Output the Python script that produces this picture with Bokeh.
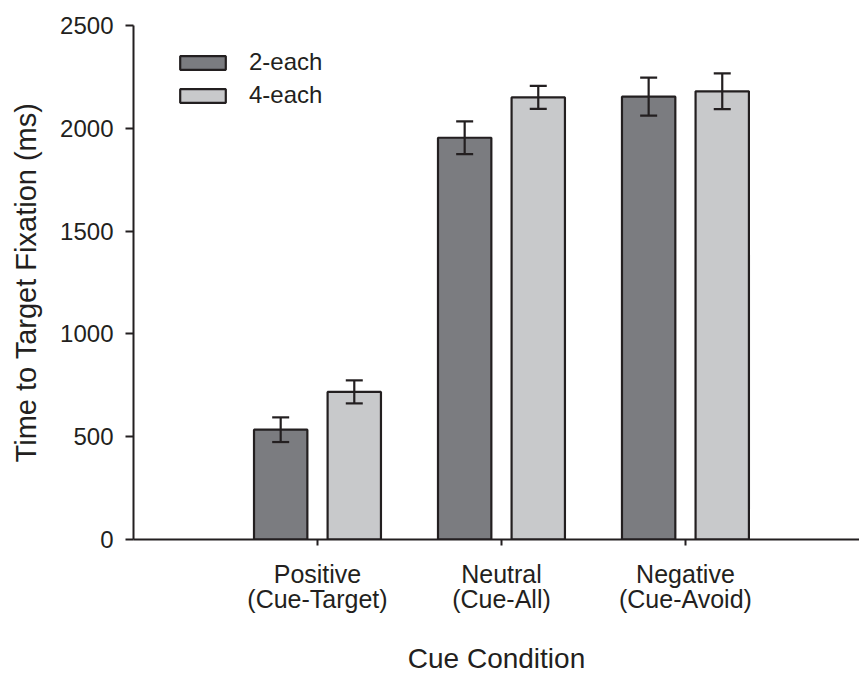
from bokeh.plotting import figure
from bokeh.models import (ColumnDataSource, Range1d, FixedTicker, Whisker, TeeHead,
                          Legend, LegendItem)
from bokeh.transform import dodge
from bokeh.embed import file_html
from bokeh.resources import INLINE

# Cue conditions (x positions 1..3) and their two-line tick labels
conditions = ["Positive", "Neutral", "Negative"]
condition_labels = ["Positive\n(Cue-Target)", "Neutral\n(Cue-All)", "Negative\n(Cue-Avoid)"]
condition_pos = [1, 2, 3]

# Mean time to target fixation (ms) and standard errors
two_each_mean = [534, 1954, 2154]
two_each_err = [60, 80, 92]
four_each_mean = [718, 2150, 2180]
four_each_err = [56, 56, 87]

series_names = ["2-each", "4-each"]
x_title = "Cue Condition"
y_title = "Time to Target Fixation (ms)"

INK = "#231f20"
FONT = "Liberation Sans"
DARK = "#7b7c80"
LIGHT = "#c8c9cb"

def make_source(means, errs):
    return ColumnDataSource(dict(
        x=condition_pos,
        top=means,
        upper=[m + e for m, e in zip(means, errs)],
        lower=[m - e for m, e in zip(means, errs)],
    ))

src2 = make_source(two_each_mean, two_each_err)
src4 = make_source(four_each_mean, four_each_err)

p = figure(width=859, height=677, output_backend="svg", toolbar_location=None,
           x_range=Range1d(0, 3.946), y_range=Range1d(0, 2500),
           min_border_left=133, min_border_right=0, min_border_top=25,
           min_border_bottom=138)
p.outline_line_color = None
p.xgrid.visible = False
p.ygrid.visible = False
p.background_fill_color = "white"
p.border_fill_color = "white"

bar_w = 0.29
r2 = p.vbar(x=dodge("x", -0.2), top="top", bottom=0, width=bar_w, source=src2,
            fill_color=DARK, line_color=INK, line_width=2.2)
r4 = p.vbar(x=dodge("x", 0.2), top="top", bottom=0, width=bar_w, source=src4,
            fill_color=LIGHT, line_color=INK, line_width=2.2)

# Error bars drawn over the bars
for src, off in ((src2, -0.2), (src4, 0.2)):
    w = Whisker(source=src, base=dodge("x", off), upper="upper", lower="lower",
                line_color=INK, line_width=2.2, level="annotation",
                upper_head=TeeHead(size=17, line_color=INK, line_width=2.2),
                lower_head=TeeHead(size=17, line_color=INK, line_width=2.2))
    p.add_layout(w)

# Axes
for ax in (p.xaxis[0], p.yaxis[0]):
    ax.axis_line_color = INK
    ax.axis_line_width = 2
    ax.major_tick_line_color = INK
    ax.major_tick_line_width = 2
    ax.major_tick_in = 0
    ax.minor_tick_line_color = None
    ax.major_label_text_font = FONT
    ax.major_label_text_color = INK
    ax.axis_label_text_font = FONT
    ax.axis_label_text_color = INK
    ax.axis_label_text_font_style = "normal"

p.yaxis.ticker = FixedTicker(ticks=[0, 500, 1000, 1500, 2000, 2500])
p.yaxis.major_tick_out = 8
p.yaxis.major_label_standoff = 12
p.yaxis.major_label_text_font_size = "24px"
p.yaxis.axis_label = y_title
p.yaxis.axis_label_text_font_size = "29px"
p.yaxis.axis_label_standoff = 15

p.xaxis.ticker = FixedTicker(ticks=condition_pos)
p.xaxis.major_label_overrides = {pos: lab for pos, lab in zip(condition_pos, condition_labels)}
p.xaxis.major_tick_out = 6
p.xaxis.major_label_standoff = 14
p.xaxis.major_label_text_font_size = "25px"
p.xaxis.major_label_text_line_height = 0.9
p.xaxis.axis_label = x_title
p.xaxis.axis_label_text_font_size = "28px"
p.xaxis.axis_label_standoff = 27

legend = Legend(items=[LegendItem(label=series_names[0], renderers=[r2]),
                       LegendItem(label=series_names[1], renderers=[r4])],
                location=(41, 430), orientation="vertical",
                glyph_width=57, glyph_height=17, label_height=17,
                label_standoff=18, spacing=5, padding=0, margin=0,
                label_text_font=FONT, label_text_font_size="24px",
                label_text_color=INK,
                background_fill_alpha=0, border_line_alpha=0)
p.add_layout(legend, "center")

open("out.html", "w").write(file_html(p, INLINE))
